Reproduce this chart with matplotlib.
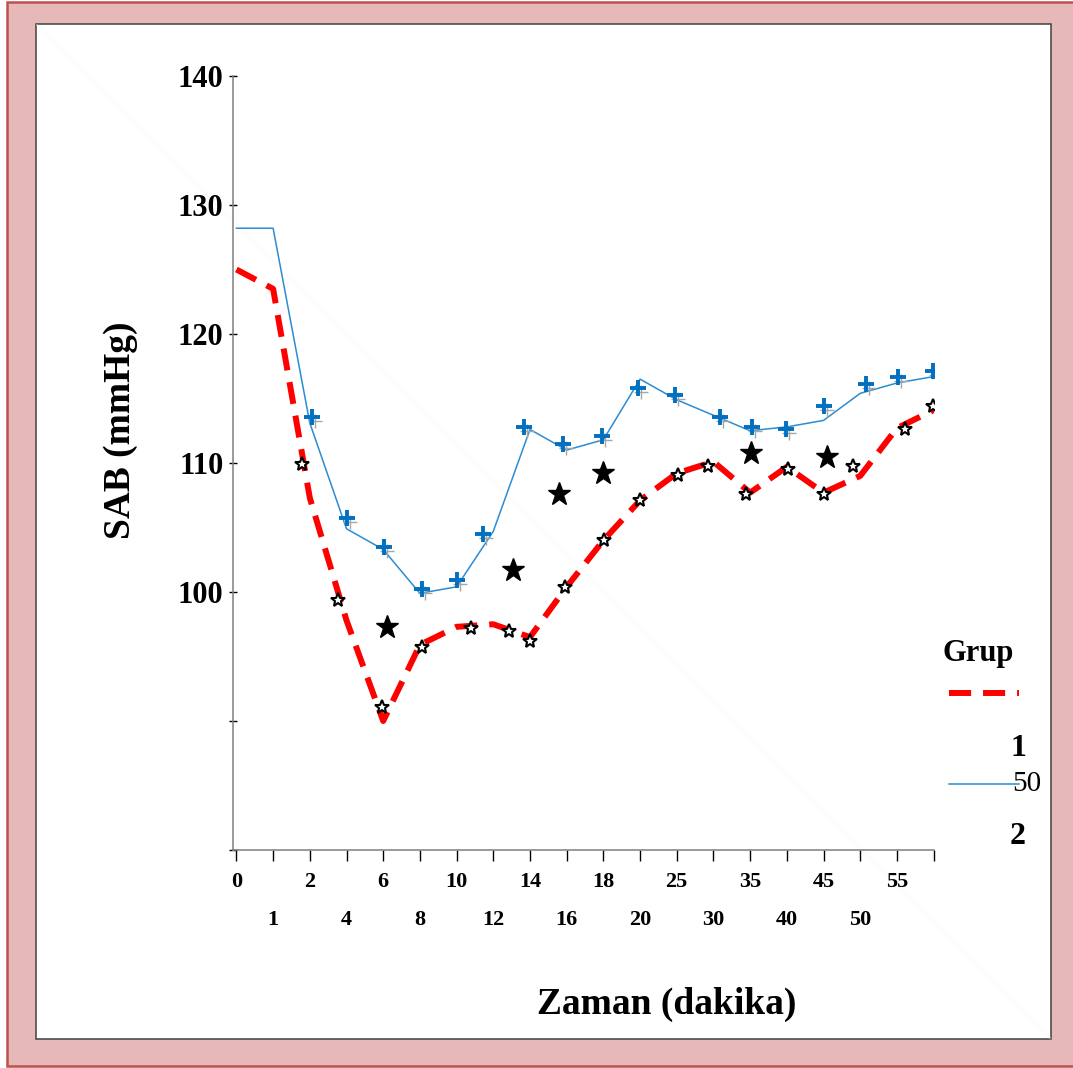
import matplotlib
matplotlib.use("Agg")
import matplotlib.pyplot as plt
from matplotlib.patches import Rectangle
from matplotlib.lines import Line2D
from matplotlib.transforms import offset_copy

plt.rcParams['font.family'] = 'Liberation Serif'

W, H = 1073, 1068

# zaman (dakika) - kategorik eksen
zaman = ['0', '1', '2', '4', '6', '8', '10', '12', '14', '16', '18', '20',
         '25', '30', '35', '40', '45', '50', '55', '']

# grup ortalamalari (cizgiler)
grup1 = [125.0, 123.5, 107.3, 97.8, 90.0, 95.9, 97.3, 97.5, 96.5, 100.4,
         104.0, 107.1, 109.2, 110.1, 107.7, 109.7, 107.7, 109.0, 112.7, 114.1]
grup2 = [128.2, 128.2, 113.1, 104.9, 103.3, 99.9, 100.4, 104.7, 112.6, 111.0,
         111.8, 116.5, 114.9, 113.7, 112.5, 112.8, 113.3, 115.4, 116.2, 116.7]

# grup 1 noktalari (bos yildiz)
g1_x = [1.78, 2.78, 3.96, 5.05, 6.39, 7.44, 7.99, 8.96, 10.02, 11.0,
        12.03, 12.86, 13.89, 15.03, 16.02, 16.8, 18.22, 18.98]
g1_y = [109.9, 99.4, 91.1, 95.7, 97.2, 97.0, 96.2, 100.4, 104.0, 107.1,
        109.1, 109.8, 107.6, 109.5, 107.6, 109.8, 112.6, 114.4]

# grup 2 noktalari (arti)
g2_x = [2.05, 3.01, 4.03, 5.05, 6.0, 6.73, 7.85, 8.91, 9.96, 10.95,
        11.95, 13.18, 14.04, 14.97, 16.01, 17.16, 18.04, 18.99]
g2_y = [113.6, 105.7, 103.5, 100.2, 100.9, 104.5, 112.8, 111.5, 112.1, 115.8,
        115.3, 113.6, 112.8, 112.6, 114.4, 116.1, 116.7, 117.1]

# anlamli fark (dolu yildiz)
sig_x = [4.11, 7.55, 8.79, 10.0, 14.02, 16.1]
sig_y = [97.3, 101.7, 107.6, 109.2, 110.75, 110.5]


def fx(px):
    return px / W


def fy(py):
    return 1 - py / H


fig = plt.figure(figsize=(W / 100, H / 100), dpi=100)
fig.patch.set_facecolor('white')

# cerceveler
fig.add_artist(Rectangle((fx(7), fy(1066)), fx(1090) - fx(7), fy(2) - fy(1066),
                         transform=fig.transFigure, facecolor='#E6B8B7',
                         edgecolor='#C0504D', lw=1.8, zorder=-3))
fig.add_artist(Rectangle((fx(36), fy(1039)), fx(1051) - fx(36), fy(24) - fy(1039),
                         transform=fig.transFigure, facecolor='white',
                         edgecolor='#404040', lw=1.1, zorder=-2))
fig.add_artist(Line2D([fx(37), fx(1050)], [fy(25), fy(1038)], transform=fig.transFigure,
                      color='#F9F9F9', lw=0.8, zorder=-1))

ax = fig.add_axes([fx(233.3), fy(850), fx(933.6) - fx(233.3), fy(76) - fy(850)])
ax.patch.set_visible(False)

x = list(range(len(zaman)))
ax.plot(x, grup2, color='#2B8CD4', lw=1.1, zorder=2)
ax.plot(x, grup1, color='#FF0000', lw=4.3, ls=(0, (3.7, 2.0)), zorder=3)

shadow = offset_copy(ax.transData, fig=fig, x=3, y=-4, units='dots')
ax.plot(g2_x, g2_y, ls='none', marker='+', ms=10, mew=1, color='#A6A6A6',
        transform=shadow, zorder=4)
ax.plot(g2_x, g2_y, ls='none', marker='+', ms=11, mew=2.8, color='#0070C0', zorder=5)
ax.plot(g1_x, g1_y, ls='none', marker='*', ms=10, mew=1.5, mfc='white',
        mec='black', zorder=6)
ax.plot(sig_x, sig_y, ls='none', marker='*', ms=17, color='black', zorder=6)

ax.set_xlim(-0.085, 19)
ax.set_ylim(80, 140)

ax.set_xticks(x[0::2], zaman[0::2])
ax.set_xticks(x[1::2], zaman[1::2], minor=True)
ax.set_yticks([80, 90, 100, 110, 120, 130, 140],
              ['', '', '100', '110', '120', '130', '140'])

for lab in ax.get_xticklabels(which='both') + ax.get_yticklabels():
    lab.set_fontweight('bold')

ax.tick_params(axis='x', which='both', direction='out', length=8, width=1,
               labelsize=16, color='black')
ax.tick_params(axis='x', which='major', pad=8)
ax.tick_params(axis='x', which='minor', pad=35)
ax.tick_params(axis='y', direction='inout', length=6, width=1, labelsize=22,
               pad=4, color='black')

for s in ['top', 'right']:
    ax.spines[s].set_visible(False)
for s in ['left', 'bottom']:
    ax.spines[s].set_color('#7F7F7F')
    ax.spines[s].set_linewidth(1.1)

fig.text(fx(120), fy(430), 'SAB (mmHg)', rotation=90, ha='center', va='center',
         fontsize=27, fontweight='bold')
fig.text(fx(667), fy(1004), 'Zaman (dakika)', ha='center', va='center',
         fontsize=27, fontweight='bold')

# lejant
fig.text(fx(978), fy(654), 'Grup', ha='center', va='center', fontsize=22,
         fontweight='bold')
fig.add_artist(Line2D([fx(949), fx(1019)], [fy(692.5), fy(692.5)],
                      transform=fig.transFigure, color='#FF0000', lw=4.3,
                      ls=(0, (3.7, 2.0))))
fig.text(fx(1018), fy(748), '1', ha='center', va='center', fontsize=23,
         fontweight='bold')
fig.add_artist(Line2D([fx(949), fx(1019)], [fy(783.5), fy(783.5)],
                      transform=fig.transFigure, color='#2B8CD4', lw=1.1))
fig.text(fx(1027), fy(784), '50', ha='center', va='center', fontsize=21)
fig.text(fx(1018), fy(837), '2', ha='center', va='center', fontsize=23,
         fontweight='bold')

fig.savefig('out.png', dpi=100)
